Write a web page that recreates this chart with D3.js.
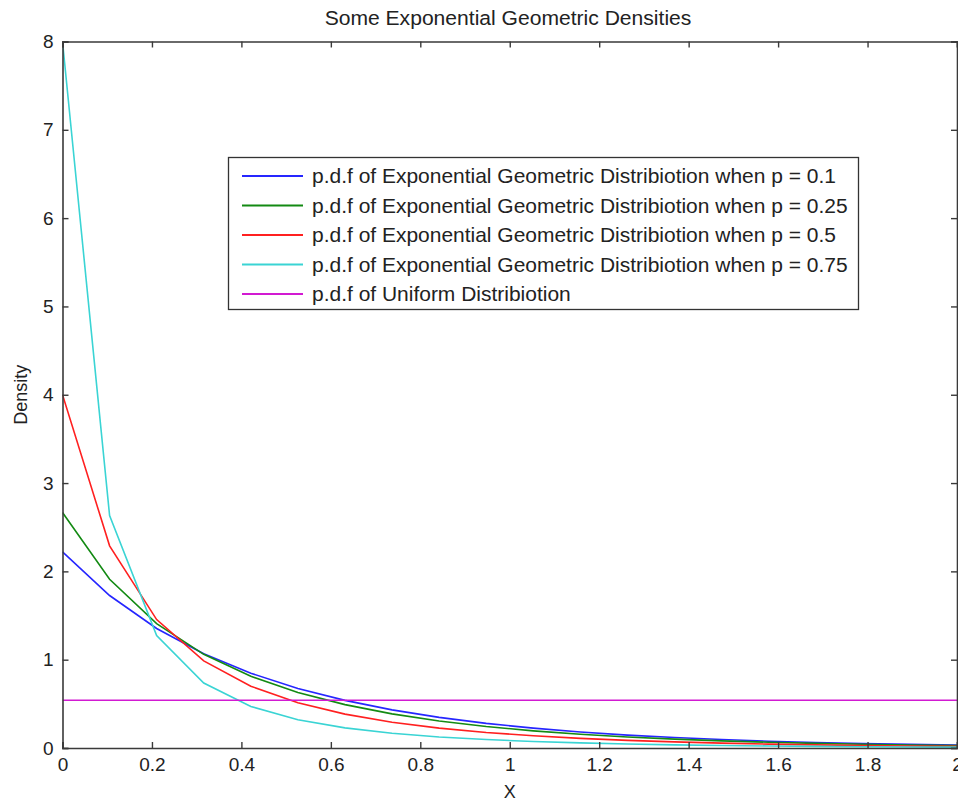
<!DOCTYPE html>
<html><head><meta charset="utf-8">
<script src="https://cdn.jsdelivr.net/npm/d3@7"></script>
<style>body{margin:0;background:#fff}svg{display:block}text{font-family:"Liberation Sans",Arial,sans-serif;fill:#222}</style>
</head><body><svg id="c" width="958" height="803"></svg>
<script>
const xValues = [0,0.1053,0.2105,0.3158,0.4211,0.5263,0.6316,0.7368,0.8421,0.9474,1.0526,1.1579,1.2632,1.3684,1.4737,1.5789,1.6842,1.7895,1.8947,2.0];
const p010 = [2.2222,1.7267,1.3532,1.0677,0.8468,0.6745,0.5390,0.4319,0.3468,0.2790,0.2247,0.1812,0.1462,0.1181,0.0955,0.0772,0.0624,0.0505,0.0409,0.0331];
const p025 = [2.6667,1.9109,1.4090,1.0610,0.8116,0.6284,0.4911,0.3866,0.3061,0.2435,0.1944,0.1556,0.1249,0.1004,0.0808,0.0652,0.0526,0.0424,0.0343,0.0277];
const p050 = [4.0000,2.2890,1.4542,0.9867,0.6998,0.5122,0.3835,0.2922,0.2255,0.1758,0.1381,0.1092,0.0868,0.0692,0.0553,0.0444,0.0357,0.0287,0.0231,0.0187];
const p075 = [8.0000,2.6310,1.2730,0.7356,0.4701,0.3202,0.2277,0.1670,0.1252,0.0955,0.0738,0.0575,0.0452,0.0358,0.0284,0.0227,0.0181,0.0146,0.0117,0.0094];
const uniformX = [0, 2];
const uniformY = [0.54, 0.54];
const seriesNames = [
  "p.d.f of Exponential Geometric Distribiotion when p = 0.1",
  "p.d.f of Exponential Geometric Distribiotion when p = 0.25",
  "p.d.f of Exponential Geometric Distribiotion when p = 0.5",
  "p.d.f of Exponential Geometric Distribiotion when p = 0.75",
  "p.d.f of Uniform Distribiotion"
];
const seriesColors = ["#2626ff","#138a13","#ff2020","#3ad4d4","#d21ad2"];
const xTicks = [0,0.2,0.4,0.6,0.8,1,1.2,1.4,1.6,1.8,2];
const yTicks = [0,1,2,3,4,5,6,7,8];
const title = "Some Exponential Geometric Densities";
const xLabel = "X", yLabel = "Density";

const svg = d3.select("#c");
const L = 62.5, R = 957, T = 41.5, B = 748;
const x = d3.scaleLinear().domain([0,2]).range([L,R]);
const y = d3.scaleLinear().domain([0,8]).range([B,T]);

function fit(sel, w){ const n = sel.node(); const cur = n.getComputedTextLength(); const fs = parseFloat(sel.attr("font-size")); sel.attr("font-size", fs*w/cur); }

svg.append("clipPath").attr("id","cp").append("rect").attr("x",L).attr("y",T).attr("width",R-L).attr("height",B-T);
const line = d3.line().x(d=>x(d[0])).y(d=>y(d[1]));
const allSeries = [p010,p025,p050,p075].map(s=>xValues.map((v,i)=>[v,s[i]]));
allSeries.push(uniformX.map((v,i)=>[v,uniformY[i]]));
const g = svg.append("g").attr("clip-path","url(#cp)");
allSeries.forEach((s,i)=>{
  g.append("path").attr("d",line(s)).attr("fill","none").attr("stroke",seriesColors[i]).attr("stroke-width",1.6);
});

// axes
const ax = "#3a3a3a";
const bx = svg.append("g").attr("transform",`translate(0,${B})`).call(d3.axisBottom(x).tickValues(xTicks).tickSize(-6).tickPadding(10).tickFormat(d3.format("~g")));
const tx = svg.append("g").attr("transform",`translate(0,${T})`).call(d3.axisTop(x).tickValues(xTicks).tickSize(-6).tickFormat(""));
const ly = svg.append("g").attr("transform",`translate(${L},0)`).call(d3.axisLeft(y).tickValues(yTicks).tickSize(-6).tickPadding(9).tickFormat(d3.format("~g")));
const ry = svg.append("g").attr("transform",`translate(${R},0)`).call(d3.axisRight(y).tickValues(yTicks).tickSize(-6).tickFormat(""));
[bx,tx,ly,ry].forEach(a=>{
  a.select(".domain").attr("stroke",ax).attr("stroke-width",1.6);
  a.selectAll(".tick line").attr("stroke",ax).attr("stroke-width",1.4);
  a.selectAll("text").attr("font-size",19).attr("fill","#2a2a44").attr("font-family","'Liberation Sans',Arial,sans-serif");
});
bx.selectAll(".tick text").attr("dy","0.71em");

// title & labels
const tt = svg.append("text").attr("x",508).attr("y",25).attr("text-anchor","middle").attr("font-size",16).text(title);
fit(tt, 367);
svg.append("text").attr("x",(L+R)/2).attr("y",798).attr("text-anchor","middle").attr("font-size",18).text(xLabel);
svg.append("text").attr("transform",`translate(27,${(T+B)/2}) rotate(-90)`).attr("text-anchor","middle").attr("font-size",18).text(yLabel);

// legend
const lg = svg.append("g");
lg.append("rect").attr("x",228.5).attr("y",157.5).attr("width",630).attr("height",152).attr("fill","#fff").attr("stroke","#333").attr("stroke-width",1.3);
const rowY = [176,205.5,235,264.5,294];
let legendFs = 18;
seriesNames.forEach((nm,i)=>{
  lg.append("line").attr("x1",242).attr("x2",303).attr("y1",rowY[i]).attr("y2",rowY[i]).attr("stroke",seriesColors[i]).attr("stroke-width",1.8);
  const t = lg.append("text").attr("class","lt").attr("x",312).attr("y",rowY[i]).attr("dy","0.35em").attr("font-size",18).text(nm);
  if(i===3){ fit(t,536); legendFs = parseFloat(t.attr("font-size")); }
});
lg.selectAll(".lt").attr("font-size",legendFs);
</script></body></html>
